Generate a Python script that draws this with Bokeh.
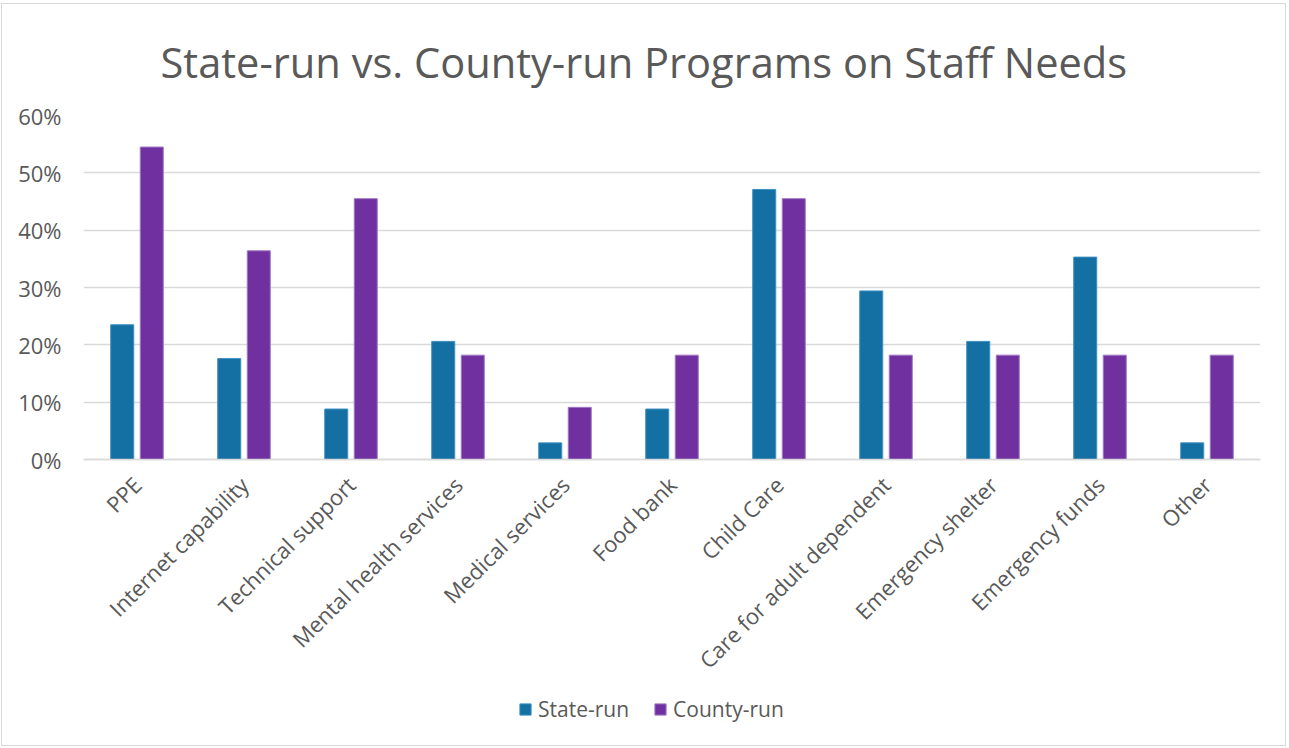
import math
from bokeh.plotting import figure
from bokeh.models import FactorRange, FixedTicker, NumeralTickFormatter, Legend, LegendItem, ColumnDataSource, Range1d
from bokeh.transform import dodge
from bokeh.embed import file_html
from bokeh.resources import INLINE

categories = ["PPE", "Internet capability", "Technical support", "Mental health services",
              "Medical services", "Food bank", "Child Care", "Care for adult dependent",
              "Emergency shelter", "Emergency funds", "Other"]
state_run = [0.235, 0.176, 0.088, 0.206, 0.029, 0.088, 0.471, 0.294, 0.206, 0.353, 0.029]
county_run = [0.545, 0.364, 0.455, 0.182, 0.091, 0.182, 0.455, 0.182, 0.182, 0.182, 0.182]
y_ticks = [0, 0.1, 0.2, 0.3, 0.4, 0.5, 0.6]

FONT = "Open Sans"
GREY = "#595959"
BLUE = "#1470a3"
PURPLE = "#7030a0"

# layout (pixels)
H, TOP, BOTTOM = 743, 111, 13
PLOT_PX = 344                      # pixel height of the 0..60% value area
frame_px = H - TOP - BOTTOM
y_max = 0.6
y_min = -y_max * (frame_px - PLOT_PX) / PLOT_PX   # room below the axis for labels and legend

src = ColumnDataSource(dict(cat=categories, state=state_run, county=county_run))

p = figure(width=1285, height=H, x_range=FactorRange(factors=categories, range_padding=0),
           y_range=Range1d(y_min, y_max), output_backend="svg", toolbar_location=None,
           min_border_left=81, min_border_right=27, min_border_top=TOP, min_border_bottom=BOTTOM,
           title="State-run vs. County-run Programs on Staff Needs")
p.styles = {"border": "1px solid #d9d9d9", "margin-top": "3px", "margin-left": "1px"}

p.title.text_font = FONT
p.title.text_font_size = "41.6px"
p.title.text_font_style = "normal"
p.title.text_color = GREY
p.title.align = "left"
p.title.offset = 77
p.title.standoff = 52

r1 = p.vbar(x=dodge("cat", -0.138, range=p.x_range), top="state", width=0.215, source=src,
            fill_color=BLUE, line_color="#3d8fc0", line_width=1)
r2 = p.vbar(x=dodge("cat", 0.138, range=p.x_range), top="county", width=0.215, source=src,
            fill_color=PURPLE, line_color="#a07ac4", line_width=1)

p.outline_line_color = None
p.xgrid.grid_line_color = None
p.ygrid.grid_line_color = "#d9d9d9"
p.ygrid.grid_line_width = 1.3
p.ygrid.ticker = FixedTicker(ticks=y_ticks)

p.yaxis.ticker = FixedTicker(ticks=y_ticks)
p.yaxis.formatter = NumeralTickFormatter(format="0%")
p.yaxis.axis_line_color = None
p.yaxis.major_tick_line_color = None
p.yaxis.minor_tick_line_color = None
p.yaxis.major_label_standoff = 16
p.yaxis.major_label_text_font = FONT
p.yaxis.major_label_text_font_size = "22px"
p.yaxis.major_label_text_color = GREY

p.xaxis.fixed_location = 0
p.xaxis.axis_line_color = "#d9d9d9"
p.xaxis.axis_line_width = 1.3
p.xaxis.major_tick_line_color = None
p.xaxis.minor_tick_line_color = None
p.xaxis.major_label_orientation = math.pi / 4
p.xaxis.major_label_standoff = 15
p.xaxis.major_label_text_font = FONT
p.xaxis.major_label_text_font_size = "22px"
p.xaxis.major_label_text_color = GREY

legend = Legend(items=[LegendItem(label="State-run", renderers=[r1]),
                       LegendItem(label="County-run", renderers=[r2])],
                orientation="horizontal", location=(435, 11),
                label_text_font=FONT, label_text_font_size="21px", label_text_color=GREY,
                glyph_width=14, glyph_height=14, spacing=24, label_standoff=6,
                border_line_color=None, background_fill_alpha=0, margin=0, padding=0)
p.add_layout(legend, "center")

open("out.html", "w").write(file_html(p, INLINE))
